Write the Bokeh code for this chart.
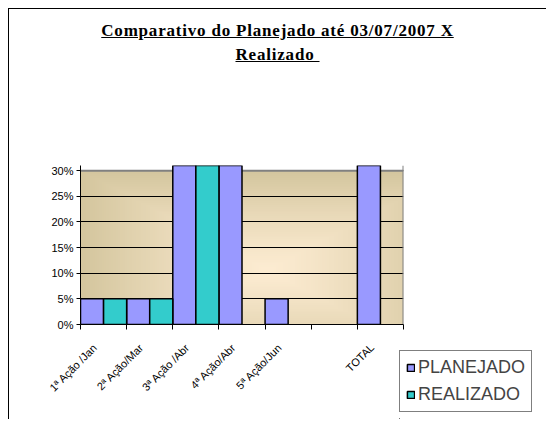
import numpy as np
from bokeh.plotting import figure
from bokeh.layouts import column, row
from bokeh.models import (Div, Span, FixedTicker, NumeralTickFormatter,
                          Legend, LegendItem, Range1d, ColumnDataSource)
from bokeh.embed import file_html
from bokeh.resources import INLINE

categories = ["1ª Ação /Jan", "2ª Ação/Mar", "3ª Ação /Abr", "4ª Ação/Abr", "5ª Ação/Jun", "", "TOTAL"]
planejado = [0.05, 0.05, 1.0, 1.0, 0.05, 0.0, 1.0]
realizado = [0.05, 0.05, 1.0, 0.0, 0.0, 0.0, 0.0]
y_ticks = [0.0, 0.05, 0.10, 0.15, 0.20, 0.25, 0.30]
series = ["PLANEJADO", "REALIZADO"]
title1 = "Comparativo do Planejado até 03/07/2007 X"
title2 = "Realizado"

PLAN_C = "#9999FF"
REAL_C = "#33CCCC"

div = Div(text=(f'<div style="font-family:\'Liberation Serif\';font-weight:bold;font-size:17px;'
                f'text-decoration:underline;text-align:center;line-height:24px;padding-top:10px;'
                f'width:537px;color:black;letter-spacing:0.8px">{title1}<br>{title2}&nbsp;</div>'),
          width=537, height=70, margin=(0, 0, 0, 0))

p = figure(width=395, height=340, x_range=Range1d(0, len(categories)), y_range=Range1d(0, 0.31),
           output_backend="svg", toolbar_location=None, margin=(0, 0, 0, 0),
           min_border_left=71, min_border_right=1, min_border_top=86, min_border_bottom=95)
p.outline_line_color = None
p.background_fill_color = "white"

# gradient background for plot area
H, W = 80, 140
yy, xx = np.mgrid[0:H, 0:W]
u = xx / (W - 1)
v = yy / (H - 1)
cx, cy = 0.58, 0.35
t = np.maximum(np.abs(u - cx) / max(cx, 1 - cx), np.abs(v - cy) / max(cy, 1 - cy))
t = np.clip(t, 0, 1) ** 1.2
c0 = np.array([253, 236, 210])
c1 = np.array([212, 198, 158])
img = np.zeros((H, W), dtype=np.uint32)
view = img.view(dtype=np.uint8).reshape((H, W, 4))
for k in range(3):
    view[:, :, k] = (c0[k] * (1 - t) + c1[k] * t).astype(np.uint8)
view[:, :, 3] = 255
p.image_rgba(image=[img], x=0, y=0, dw=len(categories), dh=y_ticks[-1], level="image")

# bars
idx = np.arange(len(categories))
sp = ColumnDataSource(dict(x=[i + 0.25 for i, v_ in zip(idx, planejado) if v_ > 0],
                           top=[v_ for v_ in planejado if v_ > 0]))
sr = ColumnDataSource(dict(x=[i + 0.75 for i, v_ in zip(idx, realizado) if v_ > 0],
                           top=[v_ for v_ in realizado if v_ > 0]))
p.vbar(x="x", top="top", bottom=0, width=0.5, source=sp, fill_color=PLAN_C,
       line_color="black", line_width=1.5)
p.vbar(x="x", top="top", bottom=0, width=0.5, source=sr, fill_color=REAL_C,
       line_color="black", line_width=1.5)

# top and right border of plot area
p.add_layout(Span(location=y_ticks[-1], dimension="width", line_color="#808080", line_width=2, level="underlay"))
p.add_layout(Span(location=len(categories), dimension="height", line_color="#808080", line_width=2, level="underlay"))

# axes (labels sit slightly left of the category centre, as in the original)
label_pos = [i + 0.32 for i in idx]
p.xaxis.ticker = FixedTicker(ticks=label_pos, minor_ticks=list(range(len(categories) + 1)))
p.xaxis.major_label_overrides = {float(x): c for x, c in zip(label_pos, categories)}
p.xaxis.major_label_orientation = np.pi / 4
p.xaxis.major_tick_out = 0
p.xaxis.major_tick_in = 0
p.xaxis.minor_tick_out = 5
p.xaxis.minor_tick_in = 0
p.xaxis.minor_tick_line_color = "black"
p.xaxis.axis_line_color = "black"
p.xaxis.major_label_text_font = "Liberation Sans"
p.xaxis.major_label_text_font_size = "11px"
p.xaxis.major_label_text_color = "black"
p.xaxis.major_label_standoff = 16

p.yaxis.ticker = FixedTicker(ticks=y_ticks)
p.yaxis.formatter = NumeralTickFormatter(format="0%")
p.yaxis.major_tick_out = 4
p.yaxis.major_tick_in = 0
p.yaxis.minor_tick_line_color = None
p.yaxis.axis_line_color = "black"
p.yaxis.major_tick_line_color = "black"
p.yaxis.major_label_text_font = "Liberation Sans"
p.yaxis.major_label_text_font_size = "11px"
p.yaxis.major_label_text_color = "black"
p.yaxis.major_label_standoff = 3

p.xgrid.grid_line_color = None
p.ygrid.grid_line_color = "black"
p.ygrid.grid_line_width = 1

# legend in its own small figure (so it is not clipped by the plot frame)
lf = figure(width=142, height=340, x_range=Range1d(100, 101), y_range=Range1d(100, 101),
            output_backend="svg", toolbar_location=None, margin=(0, 0, 0, -5),
            x_axis_type=None, y_axis_type=None, frame_align=False,
            min_border_left=0, min_border_right=0, min_border_top=0, min_border_bottom=0)
lf.outline_line_color = None
lf.border_fill_color = None
lf.background_fill_color = None
lf.xgrid.grid_line_color = None
lf.ygrid.grid_line_color = None
lp = lf.vbar(x="x", top="top", width=0.5, source=sp, fill_color=PLAN_C, line_color="black", line_width=1.5)
lr = lf.vbar(x="x", top="top", width=0.5, source=sr, fill_color=REAL_C, line_color="black", line_width=1.5)
legend = Legend(items=[LegendItem(label=series[0], renderers=[lp]),
                       LegendItem(label=series[1], renderers=[lr])],
                location=(0, 7), border_line_color="black", border_line_width=1,
                label_text_font="Liberation Sans", label_text_font_size="18px",
                label_height=20, label_standoff=3,
                glyph_width=9, glyph_height=9, spacing=6, padding=6, margin=0,
                background_fill_alpha=1)
lf.add_layout(legend, "center")

layout = column(div, row(p, lf, margin=(0, 0, 0, 0)), margin=(8, 0, 0, 8),
                styles={"border-left": "1px solid black", "border-top": "1px solid black"})

open("out.html", "w").write(file_html(layout, INLINE))
